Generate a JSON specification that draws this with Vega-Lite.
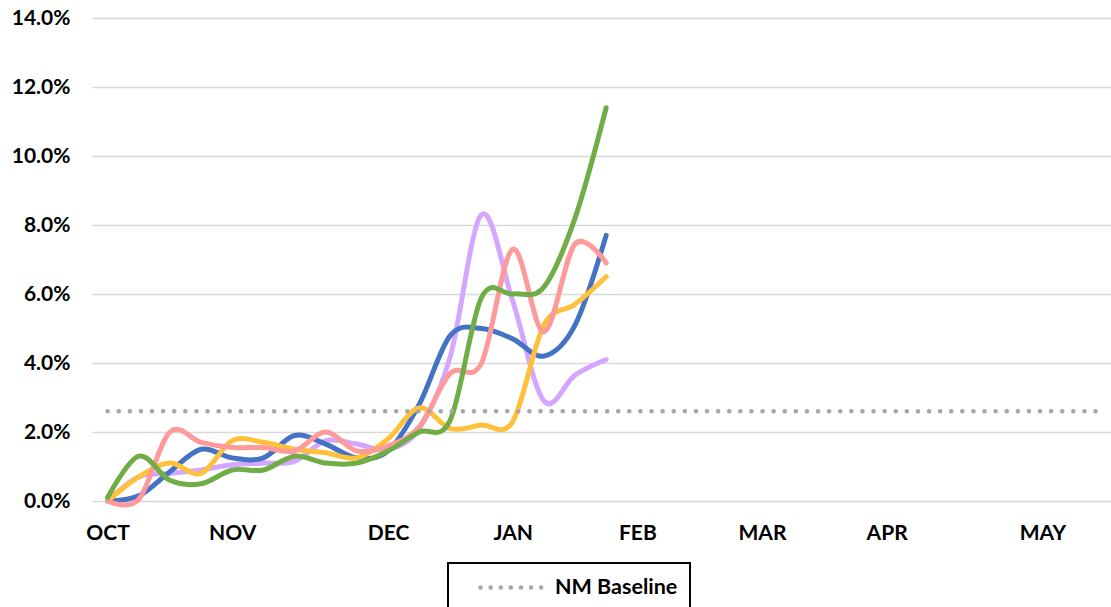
{
  "$schema": "https://vega.github.io/schema/vega-lite/v6.json",
  "width": 1019,
  "height": 483,
  "autosize": {"type": "none"},
  "padding": {"left": 92, "top": 18, "right": 0, "bottom": 106},
  "background": "white",
  "config": {
    "view": {"stroke": null},
    "font": "Lato",
    "axis": {"labelFont": "Lato", "labelFontWeight": "bold", "labelFontSize": 21, "labelColor": "#000000"}
  },
  "datasets": {
    "series": [
      {"week": 0, "name": "Purple", "value": 0.0},
      {"week": 1, "name": "Purple", "value": 0.7},
      {"week": 2, "name": "Purple", "value": 0.8},
      {"week": 3, "name": "Purple", "value": 0.9},
      {"week": 4, "name": "Purple", "value": 1.05},
      {"week": 5, "name": "Purple", "value": 1.1},
      {"week": 6, "name": "Purple", "value": 1.15},
      {"week": 7, "name": "Purple", "value": 1.75},
      {"week": 8, "name": "Purple", "value": 1.65},
      {"week": 9, "name": "Purple", "value": 1.5},
      {"week": 10, "name": "Purple", "value": 2.1},
      {"week": 11, "name": "Purple", "value": 4.2},
      {"week": 12, "name": "Purple", "value": 8.3},
      {"week": 13, "name": "Purple", "value": 5.8},
      {"week": 14, "name": "Purple", "value": 2.9},
      {"week": 15, "name": "Purple", "value": 3.65},
      {"week": 16, "name": "Purple", "value": 4.1},
      {"week": 0, "name": "Blue", "value": 0.0},
      {"week": 1, "name": "Blue", "value": 0.15},
      {"week": 2, "name": "Blue", "value": 0.85},
      {"week": 3, "name": "Blue", "value": 1.5},
      {"week": 4, "name": "Blue", "value": 1.25},
      {"week": 5, "name": "Blue", "value": 1.25},
      {"week": 6, "name": "Blue", "value": 1.9},
      {"week": 7, "name": "Blue", "value": 1.65},
      {"week": 8, "name": "Blue", "value": 1.25},
      {"week": 9, "name": "Blue", "value": 1.45},
      {"week": 10, "name": "Blue", "value": 2.8},
      {"week": 11, "name": "Blue", "value": 4.8},
      {"week": 12, "name": "Blue", "value": 5.0},
      {"week": 13, "name": "Blue", "value": 4.7},
      {"week": 14, "name": "Blue", "value": 4.2},
      {"week": 15, "name": "Blue", "value": 5.1},
      {"week": 16, "name": "Blue", "value": 7.7},
      {"week": 0, "name": "Yellow", "value": 0.0},
      {"week": 1, "name": "Yellow", "value": 0.7},
      {"week": 2, "name": "Yellow", "value": 1.1},
      {"week": 3, "name": "Yellow", "value": 0.8},
      {"week": 4, "name": "Yellow", "value": 1.75},
      {"week": 5, "name": "Yellow", "value": 1.7},
      {"week": 6, "name": "Yellow", "value": 1.5},
      {"week": 7, "name": "Yellow", "value": 1.4},
      {"week": 8, "name": "Yellow", "value": 1.25},
      {"week": 9, "name": "Yellow", "value": 1.8},
      {"week": 10, "name": "Yellow", "value": 2.7},
      {"week": 11, "name": "Yellow", "value": 2.1},
      {"week": 12, "name": "Yellow", "value": 2.2},
      {"week": 13, "name": "Yellow", "value": 2.3},
      {"week": 14, "name": "Yellow", "value": 5.1},
      {"week": 15, "name": "Yellow", "value": 5.7},
      {"week": 16, "name": "Yellow", "value": 6.5},
      {"week": 0, "name": "Pink", "value": 0.0},
      {"week": 1, "name": "Pink", "value": 0.05},
      {"week": 2, "name": "Pink", "value": 2.0},
      {"week": 3, "name": "Pink", "value": 1.7},
      {"week": 4, "name": "Pink", "value": 1.55},
      {"week": 5, "name": "Pink", "value": 1.55},
      {"week": 6, "name": "Pink", "value": 1.45},
      {"week": 7, "name": "Pink", "value": 2.0},
      {"week": 8, "name": "Pink", "value": 1.45},
      {"week": 9, "name": "Pink", "value": 1.6},
      {"week": 10, "name": "Pink", "value": 2.15},
      {"week": 11, "name": "Pink", "value": 3.7},
      {"week": 12, "name": "Pink", "value": 4.0},
      {"week": 13, "name": "Pink", "value": 7.3},
      {"week": 14, "name": "Pink", "value": 4.9},
      {"week": 15, "name": "Pink", "value": 7.45},
      {"week": 16, "name": "Pink", "value": 6.9},
      {"week": 0, "name": "Green", "value": 0.1},
      {"week": 1, "name": "Green", "value": 1.3},
      {"week": 2, "name": "Green", "value": 0.6},
      {"week": 3, "name": "Green", "value": 0.5},
      {"week": 4, "name": "Green", "value": 0.9},
      {"week": 5, "name": "Green", "value": 0.9},
      {"week": 6, "name": "Green", "value": 1.3},
      {"week": 7, "name": "Green", "value": 1.1},
      {"week": 8, "name": "Green", "value": 1.1},
      {"week": 9, "name": "Green", "value": 1.45},
      {"week": 10, "name": "Green", "value": 2.0},
      {"week": 11, "name": "Green", "value": 2.35},
      {"week": 12, "name": "Green", "value": 5.9},
      {"week": 13, "name": "Green", "value": 6.0},
      {"week": 14, "name": "Green", "value": 6.2},
      {"week": 15, "name": "Green", "value": 8.2},
      {"week": 16, "name": "Green", "value": 11.4}
    ],
    "baseline": [
      {"week": 0, "name": "NM Baseline", "value": 2.6},
      {"week": 32, "name": "NM Baseline", "value": 2.6}
    ]
  },
  "layer": [
    {
      "data": {"name": "series"},
      "mark": {"type": "line", "interpolate": "cardinal", "strokeWidth": 5, "strokeCap": "round", "strokeJoin": "round"},
      "encoding": {
        "x": {
          "field": "week", "type": "quantitative",
          "scale": {"domain": [-0.5, 32.2], "nice": false, "zero": false},
          "axis": {
            "title": null, "grid": false, "domain": false, "ticks": false,
            "values": [0, 4, 9, 13, 17, 21, 25, 30],
            "labelExpr": "{'0':'OCT','4':'NOV','9':'DEC','13':'JAN','17':'FEB','21':'MAR','25':'APR','30':'MAY'}[datum.value]",
            "labelPadding": 21, "labelFlush": false
          }
        },
        "y": {
          "field": "value", "type": "quantitative",
          "scale": {"domain": [0, 14], "nice": false},
          "axis": {
            "title": null, "domain": false, "ticks": false,
            "values": [0, 2, 4, 6, 8, 10, 12, 14],
            "labelExpr": "format(datum.value, '.1f') + '%'",
            "gridColor": "#D9D9D9", "gridWidth": 1.5,
            "labelPadding": 22
          }
        },
        "color": {
          "field": "name", "type": "nominal",
          "scale": {"domain": ["Purple", "Blue", "Yellow", "Pink", "Green"], "range": ["#D5A6FF", "#4472C4", "#FFC03A", "#FF9A9A", "#70AD47"]},
          "legend": null
        },
        "order": {"field": "week", "type": "quantitative"}
      }
    },
    {
      "data": {"name": "baseline"},
      "mark": {"type": "line", "strokeWidth": 4.5, "strokeCap": "round", "strokeDash": [0.1, 11]},
      "encoding": {
        "x": {"field": "week", "type": "quantitative"},
        "y": {"field": "value", "type": "quantitative"},
        "stroke": {
          "field": "name", "type": "nominal",
          "scale": {"domain": ["NM Baseline"], "range": ["#A6A6A6"]},
          "legend": {
            "title": null, "orient": "none", "legendX": 356, "legendY": 545,
            "symbolType": "M-3.5,0H3.5", "symbolSize": 400, "symbolStrokeWidth": 4.5,
            "symbolDash": [0.1, 10], "symbolStrokeColor": "#A6A6A6", "symbolOffset": 43,
            "labelFont": "Lato", "labelFontWeight": "bold", "labelFontSize": 21.5, "labelColor": "#000000",
            "labelOffset": 27, "padding": 12, "strokeColor": "#000000",
            "encode": {
              "symbols": {"update": {"strokeCap": {"value": "round"}}},
              "legend": {"update": {"strokeWidth": {"value": 2}}}
            }
          }
        }
      }
    }
  ],
  "resolve": {"scale": {"color": "independent"}}
}
